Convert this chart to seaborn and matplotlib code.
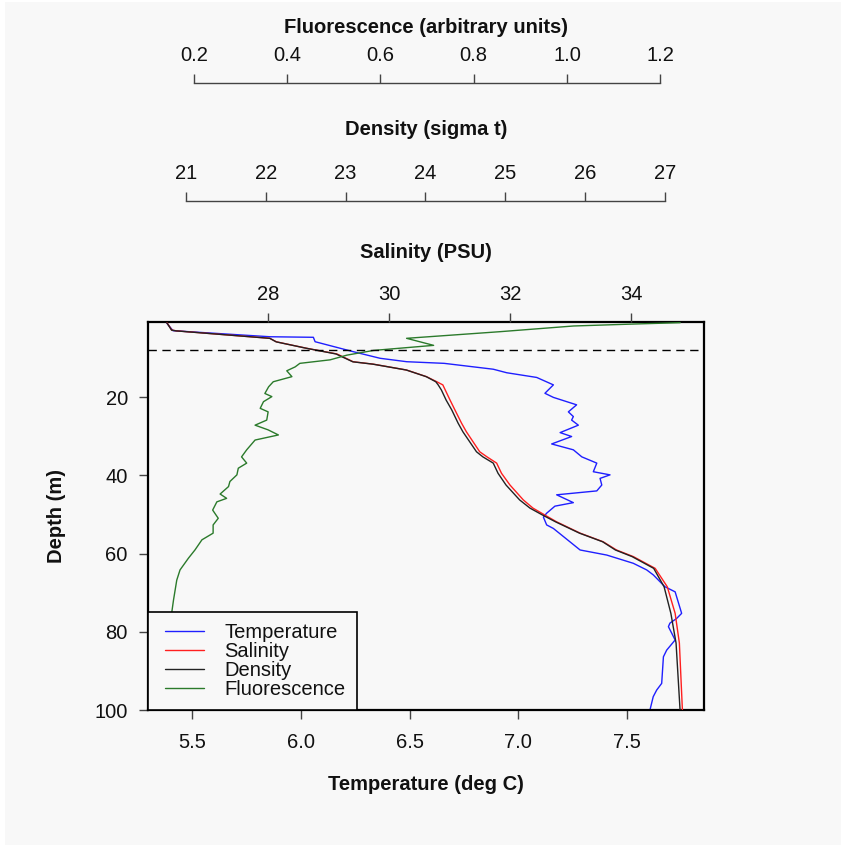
import matplotlib
matplotlib.use("Agg")
import matplotlib.pyplot as plt
from matplotlib.patches import Rectangle
from matplotlib.lines import Line2D
from matplotlib.legend_handler import HandlerLine2D
import pandas as pd
import seaborn as sns

# ---- CTD cast profiles (depth in m) ----
temp_depth = [1.0, 3.05, 4.6, 4.74, 5.87, 8.42, 10.1, 10.98, 11.4, 12.9, 13.8, 15.0,
              16.9, 19.05, 20.1, 22.0, 23.8, 25.0, 25.9, 27.2, 29.1, 30.1, 32.0, 33.5,
              35.3, 36.9, 39.1, 39.9, 40.8, 42.5, 44.0, 45.0, 47.0, 47.9, 49.7, 50.7,
              52.7, 53.6, 59.1, 60.4, 62.5, 64.2, 65.5, 68.5, 69.8, 75.3, 76.6, 77.8,
              78.7, 82.1, 84.7, 86.4, 93.2, 94.9, 96.6, 100.0]
temperature = [5.38, 5.41, 5.857, 6.057, 6.065, 6.241, 6.364, 6.487, 6.66, 6.886, 6.948, 7.086,
               7.163, 7.124, 7.163, 7.27, 7.232, 7.255, 7.247, 7.278, 7.194, 7.247, 7.155, 7.255,
               7.294, 7.363, 7.347, 7.424, 7.378, 7.386, 7.363, 7.178, 7.255, 7.17, 7.132, 7.117,
               7.132, 7.163, 7.286, 7.409, 7.531, 7.593, 7.624, 7.677, 7.724, 7.754, 7.731, 7.70,
               7.693, 7.724, 7.685, 7.67, 7.662, 7.639, 7.623, 7.608]

sd_depth = [1.0, 2.9, 3.1, 5.0, 5.9, 7.55, 9.0, 11.0, 11.6, 13.1, 14.8, 16.1, 16.9, 18.2,
            20.8, 23.3, 26.7, 28.9, 34.0, 35.3, 36.9, 39.5, 42.5, 46.3, 48.4, 50.2, 51.9,
            54.8, 57.0, 59.1, 60.8, 63.8, 68.5, 75.3, 82.9, 100.0]
salinity = [26.33, 26.41, 26.49, 28.03, 28.14, 28.64, 29.14, 29.41, 29.74, 30.29, 30.62, 30.79,
            30.89, 30.93, 31.01, 31.09, 31.20, 31.28, 31.50, 31.62, 31.78, 31.86, 32.00, 32.22,
            32.38, 32.58, 32.77, 33.16, 33.54, 33.76, 34.04, 34.40, 34.60, 34.73, 34.80, 34.85]
density = [20.76, 20.82, 20.88, 22.05, 22.13, 22.51, 22.88, 23.09, 23.34, 23.76, 24.01, 24.13,
           24.16, 24.20, 24.26, 24.33, 24.41, 24.47, 24.64, 24.72, 24.85, 24.91, 25.01, 25.18,
           25.31, 25.47, 25.63, 25.93, 26.22, 26.38, 26.59, 26.86, 26.99, 27.075, 27.14, 27.19]

fl_depth = [1.0, 1.35, 1.85, 3.3, 5.0, 6.8, 8.1, 9.3, 10.5, 11.4, 12.3, 13.3, 14.8, 16.1,
            17.4, 19.1, 19.9, 21.2, 22.9, 23.8, 25.9, 27.2, 28.4, 29.7, 31.0, 33.5, 35.3,
            36.9, 38.2, 39.9, 41.6, 42.9, 44.8, 45.9, 46.8, 48.9, 51.0, 52.7, 54.8, 56.5,
            59.1, 61.2, 64.2, 66.8, 71.9, 75.3, 87.2, 100.0]
fluorescence = [1.243, 1.143, 1.014, 0.857, 0.656, 0.714, 0.585, 0.528, 0.492, 0.427, 0.417,
                0.399, 0.410, 0.370, 0.360, 0.352, 0.367, 0.349, 0.342, 0.359, 0.356, 0.331,
                0.359, 0.381, 0.331, 0.313, 0.302, 0.313, 0.295, 0.292, 0.277, 0.274, 0.256,
                0.270, 0.249, 0.240, 0.252, 0.241, 0.241, 0.217, 0.202, 0.188, 0.170, 0.163,
                0.156, 0.152, 0.149, 0.146]

mixed_layer_depth = 8.0

depth_ticks = [20, 40, 60, 80, 100]
temp_ticks = [5.5, 6.0, 6.5, 7.0, 7.5]
sal_ticks = [28, 30, 32, 34]
dens_ticks = [21, 22, 23, 24, 25, 26, 27]
fl_ticks = [0.2, 0.4, 0.6, 0.8, 1.0, 1.2]

temp_df = pd.DataFrame({"depth": temp_depth, "value": temperature})
sal_df = pd.DataFrame({"depth": sd_depth, "value": salinity})
dens_df = pd.DataFrame({"depth": sd_depth, "value": density})
fl_df = pd.DataFrame({"depth": fl_depth, "value": fluorescence})

sns.set_theme(style="white")
plt.rcParams["font.family"] = ["Liberation Sans", "DejaVu Sans"]

PANEL = "#f8f8f8"
FS = 14.5
TXT = "#111111"
TICK = "#444444"

W, H = 843, 849
fig = plt.figure(figsize=(W / 100, H / 100), dpi=100)
fig.patch.set_facecolor("white")
fig.add_artist(Rectangle((5 / W, 4 / H), 836 / W, 843 / H, transform=fig.transFigure,
                         facecolor=PANEL, edgecolor="none", zorder=-10))

ax = fig.add_axes([148 / W, 139 / H, 556 / W, 388 / H])
ax.set_facecolor(PANEL)

line_kw = dict(orient="y", sort=False, estimator=None, legend=False, linewidth=1.0)

# temperature on the bottom axis
sns.lineplot(data=temp_df, x="value", y="depth", color="#1f1fff", label="Temperature", ax=ax, **line_kw)

# salinity on the inner top axis
ax_s = ax.twiny()
sns.lineplot(data=sal_df, x="value", y="depth", color="#ff1f1f", label="Salinity", ax=ax_s, **line_kw)

# density on a detached top axis
ax_d = ax.twiny()
sns.lineplot(data=dens_df, x="value", y="depth", color="#222222", label="Density", ax=ax_d, **line_kw)

# fluorescence on the outermost top axis
ax_f = ax.twiny()
sns.lineplot(data=fl_df, x="value", y="depth", color="#2b7a2b", label="Fluorescence", ax=ax_f, **line_kw)

# mixed layer depth
ax_f.axhline(mixed_layer_depth, color="black", lw=1.0, ls=(0, (6, 4)))

# limits
ax.set_ylim(100, 0.83)
ax.set_xlim(5.295, 7.857)
ax_s.set_xlim(26.017, 35.207)
ax_d.set_xlim(20.525, 27.49)
ax_f.set_xlim(0.1013, 1.294)

# main box
for sp in ax.spines.values():
    sp.set_visible(True)
    sp.set_color("black")
    sp.set_linewidth(1.6)
ax.set_xticks(temp_ticks)
ax.set_xticklabels([f"{t:.1f}" for t in temp_ticks])
ax.set_yticks(depth_ticks)
ax.tick_params(axis="x", bottom=True, top=False, direction="out", length=6.5, width=1,
               color=TICK, labelsize=FS, labelcolor=TXT, pad=10)
ax.tick_params(axis="y", left=True, right=False, direction="out", length=6.5, width=1,
               color=TICK, labelsize=FS, labelcolor=TXT, pad=8)
ax.set_xlabel("Temperature (deg C)", fontsize=FS, fontweight="bold", color=TXT)
ax.xaxis.set_label_coords(0.5, -0.193)
ax.xaxis.label.set_va("center")
ax.set_ylabel("Depth (m)", fontsize=FS, fontweight="bold", color=TXT)
ax.yaxis.set_label_coords(-0.1637, 0.5)
ax.yaxis.label.set_va("center")

# top axes
top_axes = [
    (ax_s, sal_ticks, [str(t) for t in sal_ticks], "Salinity (PSU)", None, 1.178),
    (ax_d, dens_ticks, [str(t) for t in dens_ticks], "Density (sigma t)", 87.3, 1.495),
    (ax_f, fl_ticks, [f"{t:.1f}" for t in fl_ticks], "Fluorescence (arbitrary units)", 172.0, 1.758),
]
for a, ticks, labels, title, outward, ypos in top_axes:
    for name, sp in a.spines.items():
        sp.set_visible(False)
    a.set_xticks(ticks)
    a.set_xticklabels(labels)
    a.tick_params(axis="x", top=True, labeltop=True, bottom=False, labelbottom=False,
                  direction="out", length=6.5, width=1, color=TICK, labelsize=FS,
                  labelcolor=TXT, pad=6.5)
    if outward is not None:
        sp = a.spines["top"]
        sp.set_visible(True)
        sp.set_position(("outward", outward))
        sp.set_bounds(ticks[0], ticks[-1])
        sp.set_color(TICK)
        sp.set_linewidth(1.0)
    a.set_xlabel(title, fontsize=FS, fontweight="bold", color=TXT)
    a.xaxis.set_label_position("top")
    a.xaxis.set_label_coords(0.5, ypos)
    a.xaxis.label.set_va("center")

# legend combining all four profiles
handles, labels = [], []
for a in (ax, ax_s, ax_d, ax_f):
    h, l = a.get_legend_handles_labels()
    handles += h
    labels += l
leg = ax_f.legend(handles, labels, loc="lower left", bbox_to_anchor=(0, 0),
                  bbox_transform=ax_f.transAxes, borderaxespad=0, frameon=True,
                  fancybox=False, edgecolor="black", facecolor=PANEL, framealpha=1,
                  fontsize=FS, handlelength=2.25, handletextpad=1.0, labelspacing=0.0,
                  borderpad=0.55, handler_map={Line2D: HandlerLine2D(xpad=0.3)})
leg.get_frame().set_linewidth(1.2)
for t in leg.get_texts():
    t.set_color(TXT)

fig.savefig("out.png", dpi=100, facecolor=fig.get_facecolor())
